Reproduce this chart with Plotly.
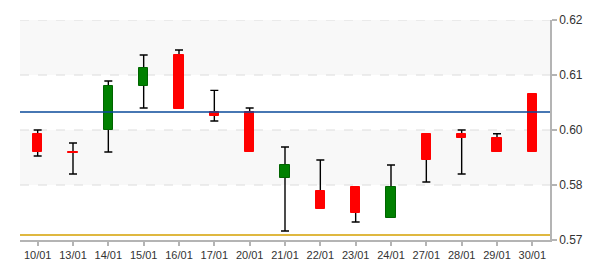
import plotly.graph_objects as go

dates = ["10/01", "13/01", "14/01", "15/01", "16/01", "17/01", "20/01", "21/01",
         "22/01", "23/01", "24/01", "27/01", "28/01", "29/01", "30/01"]
opens = [0.59424, 0.59056, 0.59492, 0.60392, 0.61040, 0.59868, 0.59868, 0.58510,
         0.58258, 0.58340, 0.57692, 0.59424, 0.59424, 0.59342, 0.60243]
closes = [0.59042, 0.59029, 0.60406, 0.60774, 0.59936, 0.59778, 0.59042, 0.58784,
          0.57876, 0.57794, 0.58340, 0.58878, 0.59328, 0.59042, 0.59042]
highs = [0.59500, 0.59234, 0.60502, 0.61034, 0.61136, 0.60310, 0.59950, 0.59152,
         0.58886, 0.58340, 0.58784, 0.59424, 0.59500, 0.59424, 0.60243]
lows = [0.58968, 0.58600, 0.59050, 0.59950, 0.59936, 0.59684, 0.59042, 0.57434,
        0.57876, 0.57618, 0.57692, 0.58436, 0.58600, 0.59042, 0.59042]
ref_level = 0.59868
low_level = 0.57352

tick_vals = [0.5725, 0.58375, 0.595, 0.60625, 0.6175]
tick_text = ["0.57", "0.58", "0.60", "0.61", "0.62"]
y_min, y_max = 0.5725, 0.6175

RED = "#ff0000"
GREEN = "#008000"

body_base = [min(o, c) for o, c in zip(opens, closes)]
body_len = [max(abs(c - o), 0.00012) for o, c in zip(opens, closes)]
body_fill = [GREEN if c > o else RED for o, c in zip(opens, closes)]
body_line = ["#006400" if c > o else RED for o, c in zip(opens, closes)]

# wicks: anchored at body middle; a side with no wick gets zero length so its cap
# stays hidden under the body
mids, up, down = [], [], []
for h, l, o, c in zip(highs, lows, opens, closes):
    top, bot = max(o, c), min(o, c)
    m = (top + bot) / 2
    mids.append(m)
    up.append(h - m if h > top + 1e-7 else 0)
    down.append(m - l if l < bot - 1e-7 else 0)

fig = go.Figure()

fig.add_trace(go.Scatter(
    x=dates, y=mids, mode="markers",
    marker=dict(size=0.1, color="rgba(0,0,0,0)"),
    error_y=dict(type="data", array=up, arrayminus=down,
                 symmetric=False, color="#000000", thickness=1.4, width=4),
    hoverinfo="skip", showlegend=False, yaxis="y",
))

fig.add_trace(go.Bar(
    x=dates, y=body_len, base=body_base, width=0.26,
    marker=dict(color=body_fill, line=dict(color=body_line, width=1)),
    showlegend=False, yaxis="y2",
))

for lo, hi in [(0.60625, 0.6175), (0.58375, 0.595)]:
    fig.add_shape(type="rect", xref="paper", yref="y", x0=0, x1=1, y0=lo, y1=hi,
                  fillcolor="#f8f8f8", line_width=0, layer="below")
for v in tick_vals[1:]:
    fig.add_shape(type="line", xref="paper", yref="y", x0=0, x1=1, y0=v, y1=v,
                  line=dict(color="#dcdcdc", width=1, dash="dash"), layer="below")
fig.add_shape(type="line", xref="paper", yref="y", x0=0, x1=1, y0=ref_level, y1=ref_level,
              line=dict(color="#0a4a9a", width=1.4), layer="above")
fig.add_shape(type="line", xref="paper", yref="y", x0=0, x1=1, y0=low_level, y1=low_level,
              line=dict(color="#d4a000", width=1.6), layer="above")

fnt = "Liberation Sans, Arial, sans-serif"

fig.update_layout(
    width=600, height=270,
    margin=dict(l=20, r=50, t=20, b=30, autoexpand=False),
    paper_bgcolor="white", plot_bgcolor="white",
    bargap=0,
    xaxis=dict(type="category", categoryorder="array", categoryarray=dates,
               range=[-0.5, len(dates) - 0.5], showgrid=False, zeroline=False,
               showline=True, linecolor="#b4b4b4", linewidth=1.5, automargin=False,
               ticks="outside", ticklen=4, tickcolor="#b4b4b4", tickwidth=1.5,
               tickfont=dict(family=fnt, size=11, color="#333333"),
               fixedrange=True),
    yaxis=dict(side="right", range=[y_min, y_max], tickvals=tick_vals, ticktext=tick_text,
               showgrid=False, zeroline=False, showline=True, linecolor="#b4b4b4", linewidth=1.5,
               ticks="outside", ticklen=5, tickcolor="#b4b4b4", tickwidth=1.5, automargin=False,
               tickfont=dict(family=fnt, size=12, color="#333333")),
    yaxis2=dict(overlaying="y", side="right", range=[y_min, y_max], visible=False,
                showgrid=False, zeroline=False, automargin=False),
)

fig.write_html("out.html")
